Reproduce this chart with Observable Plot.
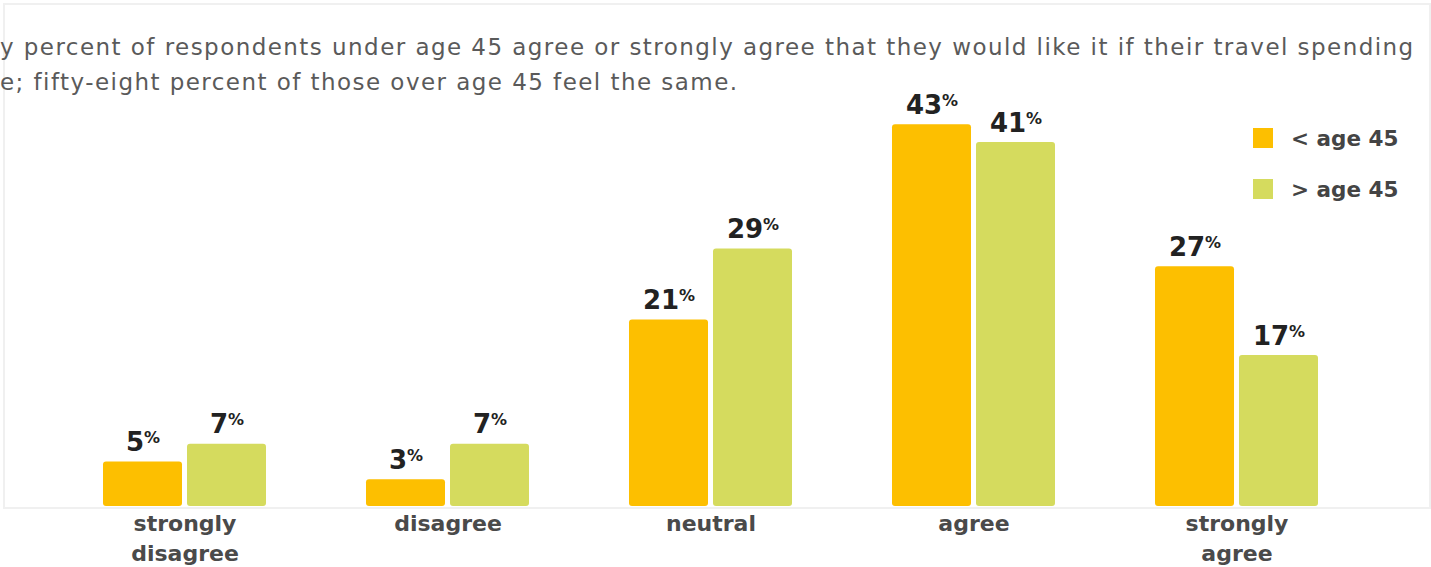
<!DOCTYPE html>
<html><head><meta charset="utf-8">
<script src="https://cdn.jsdelivr.net/npm/d3@7"></script>
<script src="https://cdn.jsdelivr.net/npm/@observablehq/plot@0.6"></script>
<style>
html,body{margin:0;padding:0;background:#fff;}
#wrap{position:relative;width:1431px;height:567px;overflow:hidden;font-family:"DejaVu Sans",sans-serif;}
#frame{position:absolute;left:3px;top:3px;width:1424px;height:502px;border:2px solid #f0f0f0;box-sizing:content-box;}
#sub{position:absolute;left:0;top:30px;white-space:nowrap;font-size:23px;letter-spacing:1.45px;color:#5a5a5a;line-height:35px;}
#chart{position:absolute;left:0;top:0;}
#legend{position:absolute;left:1253px;top:126px;}
.row{display:flex;align-items:center;height:24px;margin-bottom:27px;font-weight:700;font-size:21.5px;color:#444;}
.sw{width:20px;height:20px;margin-right:18px;}
</style></head><body>
<div id="wrap"><div id="frame"></div><div id="chart"></div><div id="sub"></div><div id="legend"></div></div>
<script>
const categories = ["strongly\ndisagree", "disagree", "neutral", "agree", "strongly\nagree"];
const series = ["< age 45", "> age 45"];
const under45 = [5, 3, 21, 43, 27];
const over45 = [7, 7, 29, 41, 17];
const colors = ["#FDBF00", "#D5DB5E"];
const subtitleLines = [
  "y percent of respondents under age 45 agree or strongly agree that they would like it if their travel spending",
  "e; fifty-eight percent of those over age 45 feel the same."
];

const data = categories.flatMap((c, i) => [
  {cat: c, group: series[0], value: under45[i]},
  {cat: c, group: series[1], value: over45[i]}
]);

const NS = "http://www.w3.org/2000/svg";
const plot = Plot.plot({
  width: 1431, height: 567,
  marginTop: 0, marginBottom: 61, marginLeft: 52, marginRight: 62,
  style: {fontFamily: "'DejaVu Sans', sans-serif", background: "transparent", overflow: "visible"},
  fx: {domain: categories, padding: 0, label: null},
  x: {domain: series, paddingInner: 0.06, paddingOuter: 0.59, axis: null},
  y: {domain: [0, 57], axis: null},
  color: {domain: series, range: colors},
  marks: [
    Plot.barY(data, {fx: "cat", x: "group", y: "value", fill: "group", rx: 3}),
    Plot.text(data, {
      fx: "cat", x: "group", y: "value", text: d => String(d.value),
      dy: -11, lineAnchor: "bottom", fontSize: 26, fontWeight: 700, fill: "#222",
      render(index, scales, values, dims, ctx, next) {
        const g = next(index, scales, values, dims, ctx);
        g.querySelectorAll("text").forEach(t => {
          const v = t.textContent;
          t.textContent = "";
          const a = document.createElementNS(NS, "tspan");
          a.textContent = v;
          const b = document.createElementNS(NS, "tspan");
          b.textContent = "%";
          b.setAttribute("font-size", "16");
          b.setAttribute("font-weight", "600");
          b.setAttribute("dy", "-8");
          t.append(a, b);
        });
        return g;
      }
    }),
    Plot.axisFx({anchor: "bottom", tickSize: 0, tickPadding: 3, fontSize: 22, fontWeight: 700, lineHeight: 1.36, color: "#4a4a4a", label: null})
  ]
});
document.getElementById("chart").append(plot);

const sub = document.getElementById("sub");
subtitleLines.forEach(l => { const d = document.createElement("div"); d.textContent = l; sub.append(d); });

const legend = document.getElementById("legend");
series.forEach((s, i) => {
  const r = document.createElement("div"); r.className = "row";
  const sw = document.createElement("div"); sw.className = "sw"; sw.style.background = colors[i];
  const lb = document.createElement("span"); lb.textContent = s;
  r.append(sw, lb); legend.append(r);
});
</script>
</body></html>
